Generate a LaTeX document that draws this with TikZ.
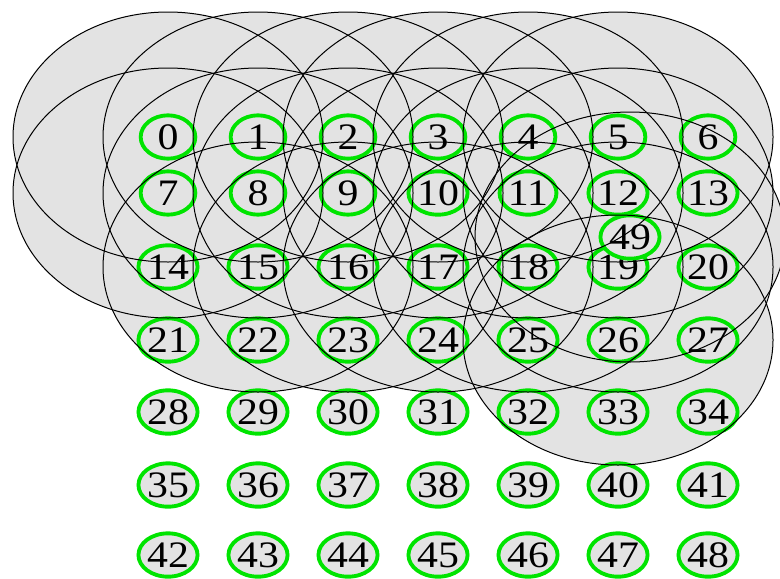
\documentclass[tikz,border=0pt]{standalone}
\usepackage{fontspec}
\usepackage{graphicx}
\setmainfont{Liberation Serif}
\usetikzlibrary{shapes.geometric,backgrounds}
\definecolor{rangegray}{RGB}{227,227,227}
\definecolor{ringgreen}{RGB}{0,228,0}
\begin{document}
\begin{tikzpicture}[x=0.75pt,y=-0.75pt,
  station/.style={ellipse,draw=ringgreen,line width=2.9pt,fill=rangegray,
    inner sep=0pt,minimum width=41pt,minimum height=32.5pt,
    font=\fontsize{28}{28}\selectfont},
  txrange/.style={x radius=155,y radius=125},
  rangeline/.style={draw=black,line width=0.75pt}]
\useasboundingbox (0,0) rectangle (780,578);
\foreach \r/\yy in {0/137,1/193,2/267,3/340,4/412,5/485,6/555} {
  \foreach \c in {0,...,6} {
    \pgfmathtruncatemacro{\k}{7*\r+\c}
    \node[station] (n\k) at ({168+90*\c},\yy) {\scalebox{1.12}[1]{\k}};
  }
}
\node[station] (n49) at (630,237) {\scalebox{1.12}[1]{49}};

\begin{pgfonlayer}{background}
\foreach \k in {0,1,2,3,4,5,7,8,9,10,11,12,15,16,17,18,19,26,49} {
  \fill[rangegray] (n\k.center) ellipse [txrange];
}
\end{pgfonlayer}
\foreach \k in {0,1,2,3,4,5,7,8,9,10,11,12,15,16,17,18,19,26,49} {
  \draw[rangeline] (n\k.center) ellipse [txrange];
}
\end{tikzpicture}
\end{document}
